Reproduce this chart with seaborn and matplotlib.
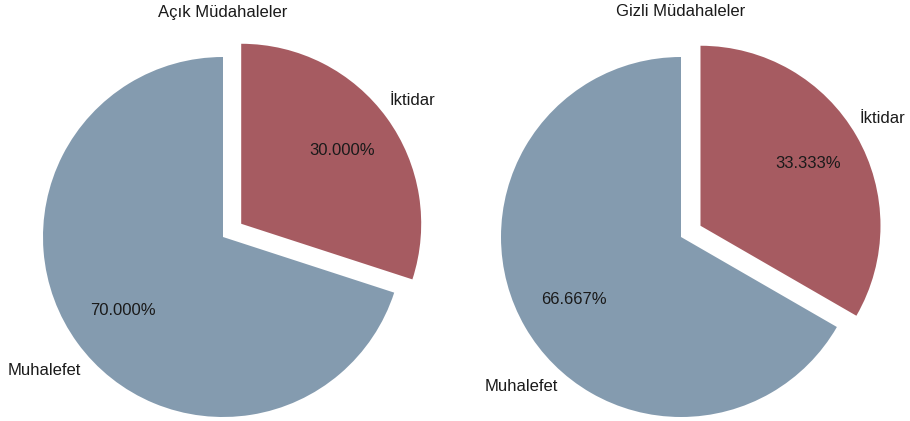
import matplotlib
matplotlib.use("Agg")
import matplotlib.pyplot as plt
import seaborn as sns

# ---- data ----
titles = ["Açık Müdahaleler", "Gizli Müdahaleler"]
categories = ["İktidar", "Muhalefet"]
acik_values = [30.0, 70.0]
gizli_values = [33.333, 66.667]
colors = ["#A65B61", "#849BAF"]

sns.set_theme(style="white")
plt.rcParams["font.family"] = ["Liberation Sans", "DejaVu Sans"]

W, H = 910, 421
fig = plt.figure(figsize=(W / 100, H / 100), dpi=100)

R = 180.0  # px per data unit
centers = [(223, 237), (681, 237)]
xlim = (-1.2, 1.3)
ylim = (-1.0, 1.3)

# label positions (data units, relative to unexploded pie centre)
label_pos = [
    {"İktidar": (1.05, 0.756), "Muhalefet": (-0.994, -0.744)},
    {"İktidar": (1.117, 0.661), "Muhalefet": (-0.889, -0.828)},
]

for i, (vals, title) in enumerate(zip([acik_values, gizli_values], titles)):
    cx, cy = centers[i]
    left = (cx + xlim[0] * R) / W
    bottom = ((H - cy) + ylim[0] * R) / H
    width = (xlim[1] - xlim[0]) * R / W
    height = (ylim[1] - ylim[0]) * R / H
    ax = fig.add_axes([left, bottom, width, height])
    wedges, texts, autotexts = ax.pie(
        vals,
        labels=categories,
        colors=colors,
        startangle=90,
        counterclock=False,
        explode=[0.125, 0.0],
        autopct="%.3f%%",
        pctdistance=0.69,
        labeldistance=1.17,
        textprops={"fontsize": 12, "color": "#1a1a1a"},
        wedgeprops={"linewidth": 0},
    )
    for t in texts:
        t.set_position(label_pos[i][t.get_text()])
        t.set_ha("center")
        t.set_va("center")
    for t in autotexts:
        t.set_color("#1a1a1a")
    ax.set_xlim(*xlim)
    ax.set_ylim(*ylim)
    ax.set_aspect("auto")
    ax.axis("off")
    fig.text(cx / W, 1 - 12 / H, title, ha="center", va="center",
             fontsize=12, color="#1a1a1a")

fig.savefig("out.png", dpi=100)
